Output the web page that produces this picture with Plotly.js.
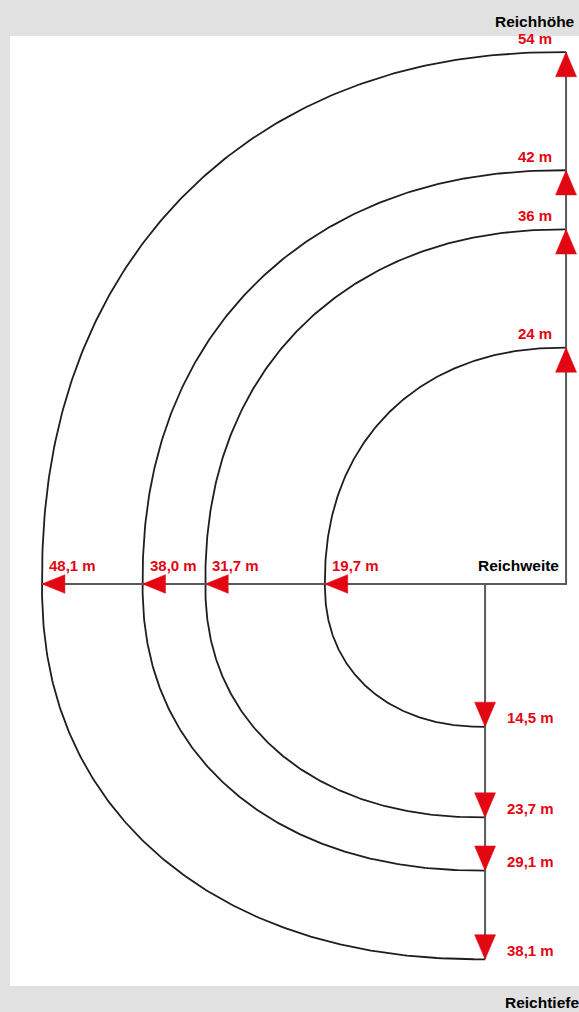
<!DOCTYPE html>
<html><head><meta charset="utf-8">
<script src="https://cdn.plot.ly/plotly-3.0.1.min.js"></script>
<style>html,body{margin:0;padding:0;background:#e1e1e1;} #chart{width:579px;height:1012px;}</style>
</head><body><div id="chart"></div>
<script>
// ---- data (metres) ----
const heights = [54, 42, 36, 24];          // Reichhöhe per boom
const reaches = [48.1, 38.0, 31.7, 19.7];  // Reichweite per boom
const depths  = [38.1, 29.1, 23.7, 14.5];  // Reichtiefe per boom
const heightLabels = ['54 m', '42 m', '36 m', '24 m'];
const reachLabels  = ['48,1 m', '38,0 m', '31,7 m', '19,7 m'];
const depthLabels  = ['38,1 m', '29,1 m', '23,7 m', '14,5 m'];
const titleHeight = 'Reichhöhe';
const titleReach  = 'Reichweite';
const titleDepth  = 'Reichtiefe';

// ---- layout constants ----
const UP_X = 4.52, DOWN_X = -3.61, EXP = 2.2;
const RED = '#e30613', CURVE = '#1e1e1e', AXIS = '#5a5a5a';
const FONT = 'Liberation Sans, Arial, sans-serif';

const traces = [];
function pw(v){ return Math.pow(Math.abs(v), 2/EXP); }

for (let i = 0; i < heights.length; i++) {
  const H = heights[i], R = reaches[i], D = depths[i];
  const xs = [], ys = [];
  const a1 = UP_X + R, a2 = R + DOWN_X;
  for (let k = 0; k <= 180; k++) {
    const t = (90 - k/2) * Math.PI / 180;
    xs.push(UP_X - a1 * pw(Math.cos(t)));
    ys.push(H * pw(Math.sin(t)));
  }
  for (let k = 0; k <= 180; k++) {
    const t = (k/2) * Math.PI / 180;
    xs.push(DOWN_X - a2 * pw(Math.cos(t)));
    ys.push(-D * pw(Math.sin(t)));
  }
  traces.push({x: xs, y: ys, mode: 'lines', line: {color: CURVE, width: 1.8}, hoverinfo: 'skip', showlegend: false});
}

// axis lines
const maxH = Math.max(...heights), maxR = Math.max(...reaches), maxD = Math.max(...depths);
traces.push({x: [-maxR, UP_X, UP_X], y: [0, 0, maxH], mode: 'lines', line: {color: AXIS, width: 2}, hoverinfo: 'skip', showlegend: false});
traces.push({x: [DOWN_X, DOWN_X], y: [0, -maxD], mode: 'lines', line: {color: AXIS, width: 2}, hoverinfo: 'skip', showlegend: false});

function tri(xs, ys) {
  traces.push({x: xs, y: ys, mode: 'lines', fill: 'toself', fillcolor: RED, line: {color: RED, width: 0.5}, hoverinfo: 'skip', showlegend: false});
}
const TW = 1.05, TH = 2.5, LW = 2.3, LH = 0.95;
heights.forEach(H => tri([UP_X, UP_X - TW, UP_X + TW, UP_X], [H, H - TH, H - TH, H]));
reaches.forEach(R => tri([-R, -R + LW, -R + LW, -R], [0, LH, -LH, 0]));
depths.forEach(D => tri([DOWN_X, DOWN_X - TW, DOWN_X + TW, DOWN_X], [-D, -D + TH, -D + TH, -D]));

const annotations = [];
const redFont = {family: FONT, size: 15, color: RED, weight: 'bold'};
const blackFont = {family: FONT, size: 15.5, color: '#000', weight: 'bold'};
heights.forEach((H, i) => annotations.push({x: UP_X, y: H, text: heightLabels[i], showarrow: false, xanchor: 'right', yanchor: 'middle', xshift: -12, yshift: 14, font: redFont}));
reaches.forEach((R, i) => annotations.push({x: -R, y: 0, text: reachLabels[i], showarrow: false, xanchor: 'left', yanchor: 'middle', xshift: 5, yshift: 18, font: redFont}));
depths.forEach((D, i) => annotations.push({x: DOWN_X, y: -D, text: depthLabels[i], showarrow: false, xanchor: 'left', yanchor: 'middle', xshift: 20, yshift: 9, font: redFont}));
annotations.push({x: UP_X, y: 0, text: titleReach, showarrow: false, xanchor: 'right', yanchor: 'middle', xshift: -5, yshift: 18, font: blackFont});
annotations.push({xref: 'paper', yref: 'paper', x: 1, y: 1, text: titleHeight, showarrow: false, xanchor: 'right', yanchor: 'middle', xshift: -2, yshift: 15, font: blackFont});
annotations.push({xref: 'paper', yref: 'paper', x: 1, y: 0, text: titleDepth, showarrow: false, xanchor: 'right', yanchor: 'middle', xshift: 2, yshift: -16, font: blackFont});

const ax = {visible: false, showgrid: false, zeroline: false, fixedrange: true};
const layout = {
  width: 579, height: 1012,
  margin: {l: 10, r: 0, t: 36, b: 26, pad: 0},
  paper_bgcolor: '#e1e1e1', plot_bgcolor: '#ffffff',
  xaxis: Object.assign({range: [-51.31, 5.82]}, ax),
  yaxis: Object.assign({range: [-40.81, 55.63]}, ax),
  showlegend: false,
  annotations: annotations
};
Plotly.newPlot('chart', traces, layout, {displayModeBar: false, staticPlot: true});
</script>
</body></html>
